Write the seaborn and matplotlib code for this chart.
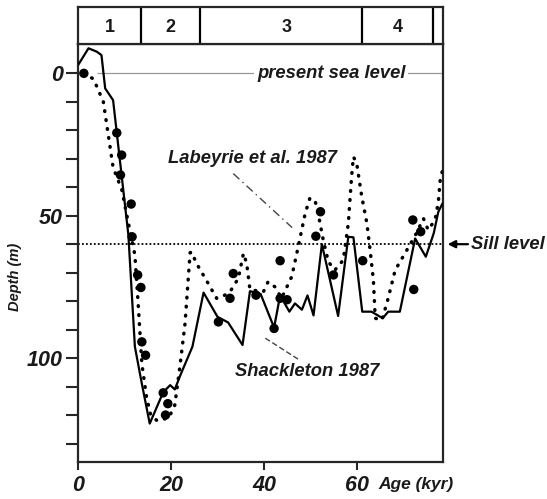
import numpy as np
import pandas as pd
import seaborn as sns
import matplotlib
matplotlib.use('Agg')
from matplotlib import pyplot as plt

# Shackleton 1987 (solid line)
shack_age = [0, 2.2, 4.0, 5.0, 5.8, 7.5, 10.8, 12.2, 13.7, 15.4, 18.3, 19.8, 20.8, 22.0, 24.6,
             27.0, 30.0, 32.3, 35.4, 37.0, 39.3, 42.2, 43.5, 45.5, 46.7, 48.2, 49.4, 50.7, 52.5,
             56.0, 58.2, 59.3, 61.2, 63.2, 65.6, 66.8, 69.3, 72.6, 74.9, 76.6, 77.6, 78.5]
shack_depth = [-3, -8.8, -7.6, -6.4, 5.3, 9.4, 56.8, 96, 109, 123, 112, 109.5, 111, 106, 96,
               77, 85.5, 87.5, 95.4, 76.5, 77.5, 89.3, 78, 83.7, 80.8, 83, 78, 85, 60,
               85.2, 57.4, 57.6, 83.7, 83.7, 86, 83.7, 83.7, 58, 64.4, 56.2, 48.6, 45.7]

# Labeyrie et al. 1987 (dotted line)
lab_age = [1.2, 3.3, 5.4, 6.5, 7.5, 9.4, 10.8, 12.2, 12.9, 13.7, 14.7, 15.6, 17.0, 19.5, 20.8,
           21.9, 23.0, 24.1, 24.4, 25.5, 28.0, 29.8, 31.0, 32.7, 34.5, 35.6, 36.3, 37.0, 39.9,
           40.9, 42.4, 43.8, 46.0, 47.4, 48.9, 49.9, 51.0, 51.7, 52.8, 53.9, 55.3, 57.1, 58.2,
           58.9, 59.3, 60.0, 61.1, 62.2, 62.9, 63.6, 64.0, 65.4, 66.5, 68.3, 70.8, 72.6, 74.4,
           75.4, 76.9, 77.6, 78.0, 78.5]
lab_depth = [0, 2, 10, 22, 33, 41, 52.6, 63.8, 80.7, 102, 113.6, 120, 122, 121, 116.5,
             103, 88, 63, 62.7, 66.8, 73.8, 79, 78.5, 76.7, 72, 63.2, 66.8, 76, 76.7,
             73.2, 75, 79, 71.4, 60.9, 49.2, 43.9, 44.5, 49.2, 58.6, 66.2, 69.1, 65.6, 52.7,
             36.3, 29.3, 31.6, 43.3, 52.7, 62.1, 72.6, 86, 86.7, 80.8, 69.1, 62.1, 57, 51,
             55, 51.5, 45.1, 37.5, 34]

# data points (black dots)
dot_age = [1.2, 8.3, 9.35, 9.1, 11.4, 11.6, 12.8, 13.5, 13.7, 14.5, 18.3, 19.3, 18.8, 30.2,
           32.7, 33.4, 38.3, 42.2, 43.5, 43.5, 45.0, 51.2, 52.2, 55.0, 61.3, 72.1, 73.8, 72.3]
dot_depth = [0, 20.9, 28.7, 35.7, 45.9, 57.4, 70.8, 75.2, 94.3, 99, 112.2, 116, 120, 87.3,
             79, 70.3, 77.9, 89.6, 65.8, 79, 79.5, 57.2, 48.6, 70.8, 65.8, 51.5, 55.6, 75.9]

# isotope stages
stage_bounds = [0, 13.5, 26.2, 61.1, 76.4, 78.5]
stage_labels = ['1', '2', '3', '4']
stage_pos = [6.75, 19.85, 45.0, 68.75]

sill_level = 60
xmax = 78.5

sns.set_style('ticks')
plt.rcParams['font.family'] = ['Liberation Sans', 'DejaVu Sans']
plt.rcParams['axes.linewidth'] = 1.6

df_s = pd.DataFrame({'age': shack_age, 'depth': shack_depth})
df_l = pd.DataFrame({'age': lab_age, 'depth': lab_depth})
df_d = pd.DataFrame({'age': dot_age, 'depth': dot_depth})

fig = plt.figure(figsize=(5.47, 4.99), dpi=100)
ax = fig.add_axes([0.1431, 0.0741, 0.8090 - 0.1431, 0.9118 - 0.0741])
axb = fig.add_axes([0.1431, 0.9118, 0.8090 - 0.1431, 0.986 - 0.9118])

txtc = '#1a1a1a'

# present sea level and sill level
ax.hlines(0, 4, xmax, color='#999999', lw=0.9, zorder=1)
ax.axhline(sill_level, color='black', lw=1.3, ls=(0, (1, 1.2)), zorder=1)

sns.lineplot(data=df_l, x='age', y='depth', ax=ax, color='black', lw=2.5,
             ls=(0, (0.2, 2.4)), dash_capstyle='round', sort=False, estimator=None, zorder=3)
sns.lineplot(data=df_s, x='age', y='depth', ax=ax, color='black', lw=1.6,
             sort=False, estimator=None, zorder=4)
sns.scatterplot(data=df_d, x='age', y='depth', ax=ax, color='black', s=46,
                edgecolor='none', zorder=5)

ax.set_xlim(0, xmax)
ax.set_ylim(136.5, -10.3)
ax.set_xticks([0, 20, 40, 60])
ax.set_yticks([0, 50, 100])
ax.set_yticks(np.arange(0, 140, 10), minor=True)
ax.tick_params(axis='y', which='both', length=8.5, width=1.5, pad=2.5, labelsize=15.5)
ax.tick_params(axis='x', length=6, width=1.5, pad=3, labelsize=15.5)
for lab in ax.get_xticklabels() + ax.get_yticklabels():
    lab.set_fontstyle('italic')
    lab.set_fontweight('bold')
    lab.set_color(txtc)
ax.set_xlabel('')
ax.set_ylabel('')
for sp in ['top', 'right', 'left', 'bottom']:
    ax.spines[sp].set_visible(True)

tkw = dict(fontsize=13.2, fontweight='bold', fontstyle='italic', color=txtc)
ax.text(54.5, 0, 'present sea level', ha='center', va='center',
        bbox=dict(facecolor='white', edgecolor='none', pad=2), zorder=2, **tkw)
ax.text(37.5, 30, 'Labeyrie et al. 1987', ha='center', va='center', **tkw)
ax.plot([33.4, 46.1], [35.2, 54.2], color='#444444', lw=1.0, ls=(0, (6, 3, 1, 3)))
ax.text(49.4, 104.6, 'Shackleton 1987', ha='center', va='center', **tkw)
ax.plot([40.3, 47.4], [93, 100.4], color='#444444', lw=1.0, ls=(0, (4, 2)))

ax.annotate('Sill level', xy=(79.6, sill_level), xytext=(84.7, sill_level),
            ha='left', va='center', annotation_clip=False,
            arrowprops=dict(arrowstyle='-|>', color='black', lw=1.6, mutation_scale=11,
                            shrinkA=0, shrinkB=0), **tkw)

fig.text(15 / 547, 1 - 277 / 499, 'Depth (m)', rotation=90, ha='center', va='center',
         fontsize=10.5, fontweight='bold', fontstyle='italic', color=txtc)
fig.text(378 / 547, 1 - 485 / 499, 'Age (kyr)', ha='left', va='center',
         fontsize=12.5, fontweight='bold', fontstyle='italic', color=txtc)

# stage band
axb.set_xlim(0, xmax)
axb.set_ylim(0, 1)
axb.set_xticks([])
axb.set_yticks([])
for b in stage_bounds[1:-1]:
    axb.axvline(b, color='black', lw=1.6)
for p, s in zip(stage_pos, stage_labels):
    axb.text(p, 0.45, s, ha='center', va='center', fontsize=13, fontweight='bold', color=txtc)

fig.savefig('out.png', dpi=100)
